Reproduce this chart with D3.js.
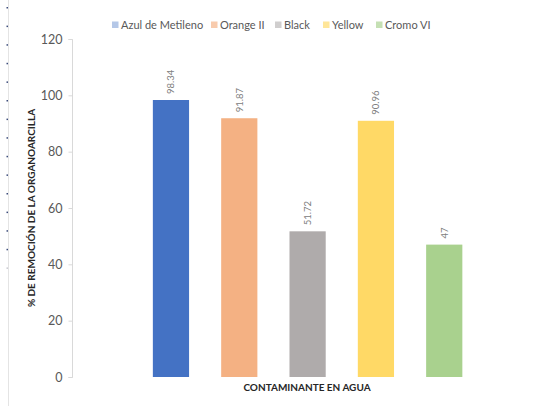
<!DOCTYPE html>
<html>
<head>
<meta charset="utf-8">
<script src="https://cdn.jsdelivr.net/npm/d3@7"></script>
<style>
  html, body { margin: 0; padding: 0; background: #fff; }
  svg { display: block; font-family: Lato, "Liberation Sans", sans-serif; }
</style>
</head>
<body>
<svg id="chart" width="534" height="406"></svg>
<script>
// Contaminant series and removal percentages
const series = ["Azul de Metileno", "Orange II", "Black", "Yellow", "Cromo VI"];
const values = [98.34, 91.87, 51.72, 90.96, 47];
const labels = ["98.34", "91.87", "51.72", "90.96", "47"];
const barColors = ["#4472c4", "#f4b183", "#afabab", "#ffd966", "#a9d18e"];
const legendColors = ["#b4c7e7", "#f8cbad", "#d0cece", "#ffe699", "#c5e0b4"];
const yTicks = [0, 20, 40, 60, 80, 100, 120];

const svg = d3.select("#chart");

// faint left margin rule with small markers
svg.append("line")
  .attr("x1", 8.5).attr("x2", 8.5).attr("y1", 0).attr("y2", 406)
  .attr("stroke", "#e4e4e4").attr("stroke-width", 1);
const dotYs = d3.range(0, 15).map(i => 7 + i * 18.6);
svg.selectAll("rect.dot").data(dotYs).enter().append("rect")
  .attr("class", "dot")
  .attr("x", 6.5).attr("y", d => d).attr("width", 1.5).attr("height", 1.5)
  .attr("fill", (d, i) => i < 14 ? "#3a4a7a" : "#c8c8d0");

const y = d3.scaleLinear().domain([0, 120]).range([377, 39]);
const x = d3.scaleBand().domain(series).range([136.8, 478.4]).paddingInner(0.47).paddingOuter(0.235);

// y axis
const yAxis = d3.axisLeft(y).tickValues(yTicks).tickSize(4).tickPadding(6);
const gy = svg.append("g").attr("transform", "translate(72.5,0)").call(yAxis);
gy.select(".domain").attr("stroke", "#d9d9d9").attr("d", "M-4,39.5H0V377.5H-4");
gy.selectAll(".tick line").attr("stroke", "#d9d9d9");
gy.selectAll(".tick text").attr("fill", "#595959").attr("font-size", "12.5px")
  .attr("font-family", "Lato, 'Liberation Sans', sans-serif");

// bars
svg.selectAll("rect.bar").data(series).enter().append("rect")
  .attr("class", "bar")
  .attr("x", d => x(d))
  .attr("width", x.bandwidth())
  .attr("y", (d, i) => y(values[i]))
  .attr("height", (d, i) => y(0) - y(values[i]))
  .attr("fill", (d, i) => barColors[i]);

// value labels, rotated
svg.selectAll("text.val").data(series).enter().append("text")
  .attr("class", "val")
  .attr("transform", (d, i) => `translate(${x(d) + x.bandwidth() / 2 + 3.5},${y(values[i]) - 6}) rotate(-90)`)
  .attr("text-anchor", "start")
  .attr("fill", "#808080")
  .attr("font-size", "9.5px")
  .text((d, i) => labels[i]);

// legend
const legendX = [112, 211, 275, 323, 376];
const lg = svg.selectAll("g.leg").data(series).enter().append("g")
  .attr("class", "leg")
  .attr("transform", (d, i) => `translate(${legendX[i]},21)`);
lg.append("rect").attr("width", 6.5).attr("height", 6.5).attr("y", 0.5)
  .attr("fill", (d, i) => legendColors[i]);
lg.append("text").attr("x", 9).attr("y", 7.5)
  .attr("fill", "#595959").attr("font-size", "11px")
  .text(d => d);

// axis titles
svg.append("text")
  .attr("x", 307).attr("y", 391)
  .attr("text-anchor", "middle")
  .attr("font-size", "10px").attr("font-weight", "bold").attr("fill", "#262626")
  .text("CONTAMINANTE EN AGUA");

svg.append("text")
  .attr("transform", "translate(35,208) rotate(-90)")
  .attr("text-anchor", "middle")
  .attr("font-size", "10px").attr("font-weight", "bold").attr("fill", "#262626")
  .text("% DE REMOCIÓN DE LA ORGANOARCILLA");
</script>
</body>
</html>
